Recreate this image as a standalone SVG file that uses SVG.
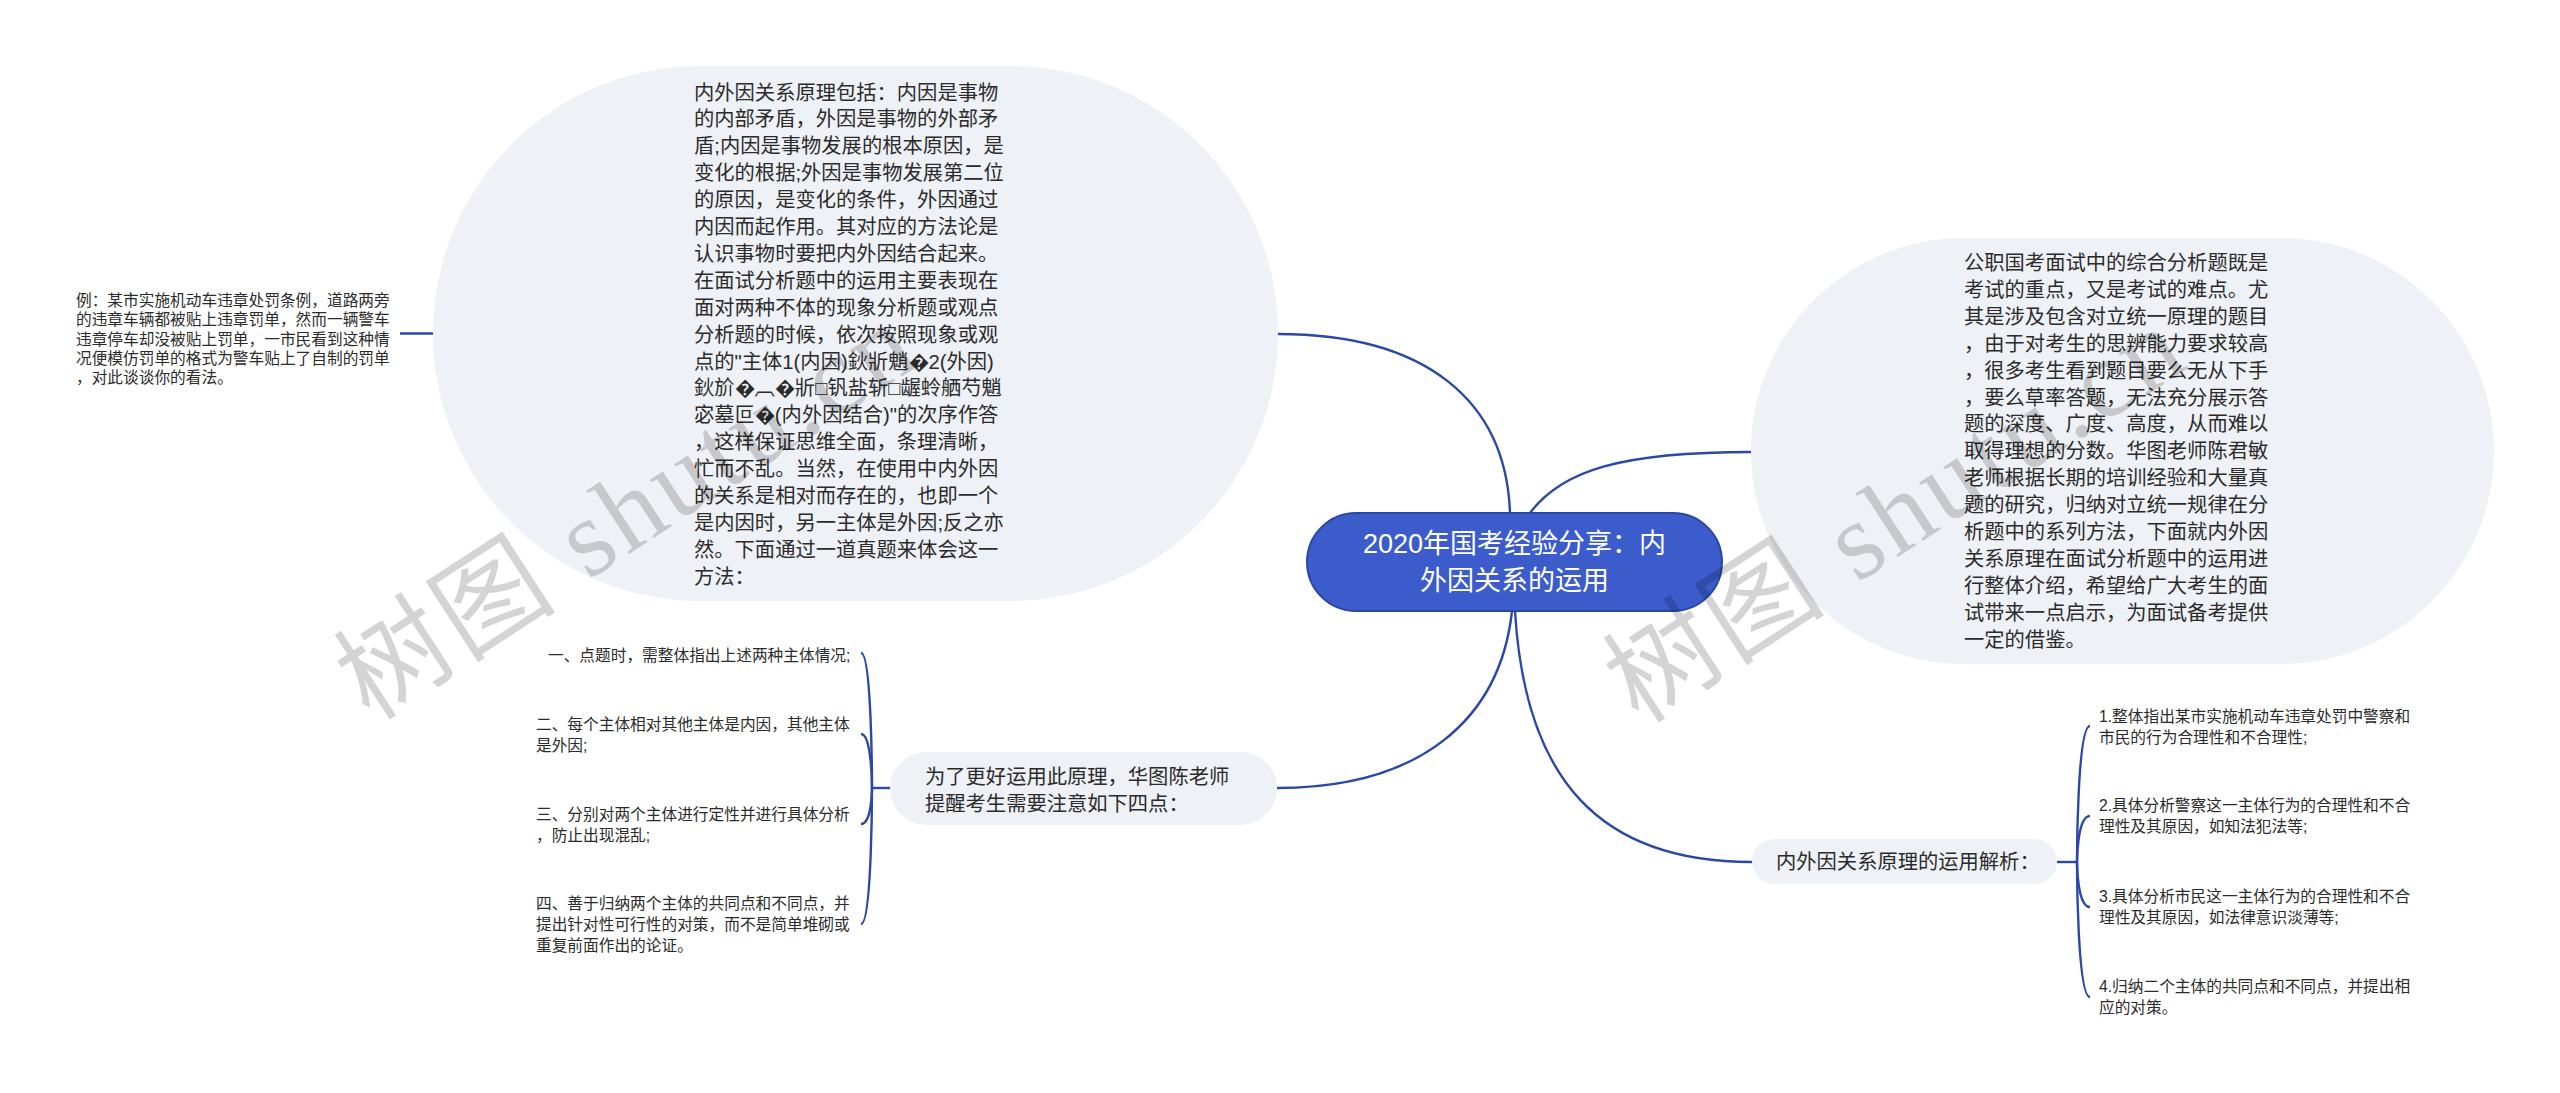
<svg xmlns="http://www.w3.org/2000/svg" width="2560" height="1093" viewBox="0 0 2560 1093">
<style>
.bg{fill:#eef1f5}
.t{font-family:"Liberation Sans","Noto Sans CJK SC",sans-serif;fill:#2b2b2b;dominant-baseline:central}
.b{font-size:20.3px}
.s{font-size:15.7px}
.link{fill:none;stroke:#2a48a4;stroke-width:2.4}
.wm{font-family:"Liberation Serif","Noto Sans CJK SC",serif;font-size:110px;fill:#000;fill-opacity:0.17;letter-spacing:4px}
</style>
<rect width="2560" height="1093" fill="#ffffff"/>
<g id="connectors">
<path class="link" d="M1510,513 C1506,400 1425,334 1278,334"/>
<path class="link" d="M400,333.5 L434,333.5"/>
<path class="link" d="M1512,611 C1500,720 1420,788 1277,788"/>
<path class="link" d="M890,788 L872,788"/>
<path class="link" d="M872,788 C872,788 872,653 861,653"/>
<path class="link" d="M872,788 C872,788 872,734 861,734"/>
<path class="link" d="M872,788 C872,788 872,824 861,824"/>
<path class="link" d="M872,788 C872,788 872,924 861,924"/>
<path class="link" d="M1530,513 C1562,470 1622,452 1752,452"/>
<path class="link" d="M1515,611 C1525,780 1600,862 1752,862"/>
<path class="link" d="M2057,862 L2077,862"/>
<path class="link" d="M2077,862 C2077,862 2077,726 2090,726"/>
<path class="link" d="M2077,862 C2077,862 2077,816 2090,816"/>
<path class="link" d="M2077,862 C2077,862 2077,907 2090,907"/>
<path class="link" d="M2077,862 C2077,862 2077,997 2090,997"/>
</g>
<g id="root">
<rect x="1307" y="513" width="415" height="98" rx="49" fill="#3b5cca" stroke="#2a47a6" stroke-width="2"/>
<text class="t" x="1514.5" y="544" text-anchor="middle" style="font-size:27px;fill:#ffffff">2020年国考经验分享：内</text>
<text class="t" x="1514.5" y="581" text-anchor="middle" style="font-size:27px;fill:#ffffff">外因关系的运用</text>
</g>
<g id="node-principle">
<rect class="bg" x="433" y="66" width="845" height="535" rx="267.5"/>
<text class="t b" x="694">
<tspan x="694" y="92.5">内外因关系原理包括：内因是事物</tspan>
<tspan x="694" y="119.4">的内部矛盾，外因是事物的外部矛</tspan>
<tspan x="694" y="146.3">盾;内因是事物发展的根本原因，是</tspan>
<tspan x="694" y="173.2">变化的根据;外因是事物发展第二位</tspan>
<tspan x="694" y="200.1">的原因，是变化的条件，外因通过</tspan>
<tspan x="694" y="227">内因而起作用。其对应的方法论是</tspan>
<tspan x="694" y="253.9">认识事物时要把内外因结合起来。</tspan>
<tspan x="694" y="280.8">在面试分析题中的运用主要表现在</tspan>
<tspan x="694" y="307.7">面对两种不体的现象分析题或观点</tspan>
<tspan x="694" y="334.6">分析题的时候，依次按照现象或观</tspan>
<tspan x="694" y="361.5">点的"主体1(内因)鈥斨魈�2(外因)</tspan>
<tspan x="694" y="388.4">鈥斺�︹�斨□钒盐斩□龌蛉舾芍魈</tspan>
<tspan x="694" y="415.3">宓墓叵�(内外因结合)"的次序作答</tspan>
<tspan x="694" y="442.2">，这样保证思维全面，条理清晰，</tspan>
<tspan x="694" y="469.1">忙而不乱。当然，在使用中内外因</tspan>
<tspan x="694" y="496">的关系是相对而存在的，也即一个</tspan>
<tspan x="694" y="522.9">是内因时，另一主体是外因;反之亦</tspan>
<tspan x="694" y="549.8">然。下面通过一道真题来体会这一</tspan>
<tspan x="694" y="576.7">方法：</tspan>
</text>
</g>
<g id="node-example">
<text class="t s">
<tspan x="76" y="300">例：某市实施机动车违章处罚条例，道路两旁</tspan>
<tspan x="76" y="319.3">的违章车辆都被贴上违章罚单，然而一辆警车</tspan>
<tspan x="76" y="338.6">违章停车却没被贴上罚单，一市民看到这种情</tspan>
<tspan x="76" y="357.9">况便模仿罚单的格式为警车贴上了自制的罚单</tspan>
<tspan x="76" y="377.2">，对此谈谈你的看法。</tspan>
</text>
</g>
<g id="node-intro">
<rect class="bg" x="1751" y="238" width="743" height="426" rx="213"/>
<text class="t b">
<tspan x="1964" y="263">公职国考面试中的综合分析题既是</tspan>
<tspan x="1964" y="289.9">考试的重点，又是考试的难点。尤</tspan>
<tspan x="1964" y="316.8">其是涉及包含对立统一原理的题目</tspan>
<tspan x="1964" y="343.7">，由于对考生的思辨能力要求较高</tspan>
<tspan x="1964" y="370.6">，很多考生看到题目要么无从下手</tspan>
<tspan x="1964" y="397.5">，要么草率答题，无法充分展示答</tspan>
<tspan x="1964" y="424.4">题的深度、广度、高度，从而难以</tspan>
<tspan x="1964" y="451.3">取得理想的分数。华图老师陈君敏</tspan>
<tspan x="1964" y="478.2">老师根据长期的培训经验和大量真</tspan>
<tspan x="1964" y="505.1">题的研究，归纳对立统一规律在分</tspan>
<tspan x="1964" y="532">析题中的系列方法，下面就内外因</tspan>
<tspan x="1964" y="558.9">关系原理在面试分析题中的运用进</tspan>
<tspan x="1964" y="585.8">行整体介绍，希望给广大考生的面</tspan>
<tspan x="1964" y="612.7">试带来一点启示，为面试备考提供</tspan>
<tspan x="1964" y="639.6">一定的借鉴。</tspan>
</text>
</g>
<g id="node-tips">
<rect class="bg" x="890" y="752" width="387" height="73" rx="36.5"/>
<text class="t b">
<tspan x="925" y="777">为了更好运用此原理，华图陈老师</tspan>
<tspan x="925" y="803.5">提醒考生需要注意如下四点：</tspan>
</text>
</g>
<g id="tip-1"><text class="t s" x="548" y="655">一、点题时，需整体指出上述两种主体情况;</text></g>
<g id="tip-2"><text class="t s"><tspan x="536" y="724">二、每个主体相对其他主体是内因，其他主体</tspan><tspan x="536" y="745">是外因;</tspan></text></g>
<g id="tip-3"><text class="t s"><tspan x="536" y="814">三、分别对两个主体进行定性并进行具体分析</tspan><tspan x="536" y="835">，防止出现混乱;</tspan></text></g>
<g id="tip-4"><text class="t s"><tspan x="536" y="903">四、善于归纳两个主体的共同点和不同点，并</tspan><tspan x="536" y="924">提出针对性可行性的对策，而不是简单堆砌或</tspan><tspan x="536" y="945">重复前面作出的论证。</tspan></text></g>
<g id="node-analysis">
<rect class="bg" x="1752" y="839" width="305" height="45" rx="22.5"/>
<text class="t b" x="1776" y="862">内外因关系原理的运用解析：</text>
</g>
<g id="analysis-1"><text class="t s"><tspan x="2099" y="716">1.整体指出某市实施机动车违章处罚中警察和</tspan><tspan x="2099" y="737">市民的行为合理性和不合理性;</tspan></text></g>
<g id="analysis-2"><text class="t s"><tspan x="2099" y="805">2.具体分析警察这一主体行为的合理性和不合</tspan><tspan x="2099" y="826">理性及其原因，如知法犯法等;</tspan></text></g>
<g id="analysis-3"><text class="t s"><tspan x="2099" y="896">3.具体分析市民这一主体行为的合理性和不合</tspan><tspan x="2099" y="917">理性及其原因，如法律意识淡薄等;</tspan></text></g>
<g id="analysis-4"><text class="t s"><tspan x="2099" y="986">4.归纳二个主体的共同点和不同点，并提出相</tspan><tspan x="2099" y="1007">应的对策。</tspan></text></g>
<g id="watermarks">
<text class="wm" transform="translate(370,722) rotate(-33)">树图 shutu.cn</text>
<text class="wm" transform="translate(1639,725) rotate(-33)">树图 shutu.cn</text>
</g>
</svg>
